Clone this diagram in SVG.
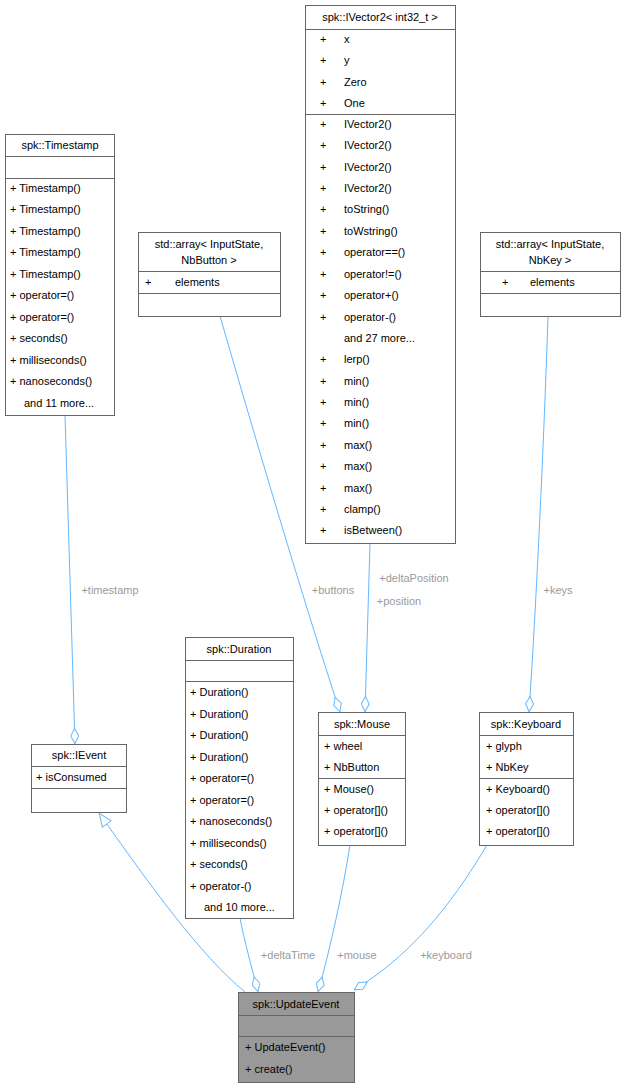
<svg xmlns="http://www.w3.org/2000/svg" width="627" height="1088" viewBox="0 0 627 1088">
<style>
text{font-family:"Liberation Sans",Arial,sans-serif;font-size:11px;fill:#000}
.t{text-anchor:middle}
.lb{fill:#9a9a9a;text-anchor:middle}
.b{fill:#fff;stroke:#666;stroke-width:1}
.g{fill:#999;stroke:#666;stroke-width:1}
.s{stroke:#666;stroke-width:1}
.e{fill:none;stroke:#63b8ff;stroke-width:1}
</style>
<defs>
<marker id="d" viewBox="0 0 16 9" markerWidth="16" markerHeight="9" refX="16" refY="4.5" orient="auto" markerUnits="userSpaceOnUse"><path d="M0.5,4.5 L8,0.5 L15.5,4.5 L8,8.5 Z" fill="#fff" stroke="#63b8ff"/></marker>
<marker id="tr" viewBox="0 0 14 12" markerWidth="14" markerHeight="12" refX="14" refY="6" orient="auto" markerUnits="userSpaceOnUse"><path d="M0.5,0.5 L13.5,6 L0.5,11.5 Z" fill="#fff" stroke="#63b8ff"/></marker>
</defs>
<g id="edges">
<path class="e" d="M65,415 L75,744" marker-end="url(#d)"/>
<path class="e" d="M245,992 C200,955 150,885 99,813" marker-end="url(#tr)"/>
<path class="e" d="M240,918 C244,940 252,968 258,992" marker-end="url(#d)"/>
<path class="e" d="M350,845 C343,890 330,950 318,992" marker-end="url(#d)"/>
<path class="e" d="M487,845 C460,890 420,950 354,990" marker-end="url(#d)"/>
<path class="e" d="M220,316 C250,420 300,590 340,712" marker-end="url(#d)"/>
<path class="e" d="M370,543 L365,712" marker-end="url(#d)"/>
<path class="e" d="M548,316 C544,440 536,610 529,712" marker-end="url(#d)"/>
<text class="lb" x="110" y="594">+timestamp</text>
<text class="lb" x="288" y="959">+deltaTime</text>
<text class="lb" x="357" y="959">+mouse</text>
<text class="lb" x="446" y="959">+keyboard</text>
<text class="lb" x="333" y="594">+buttons</text>
<text class="lb" x="414" y="582">+deltaPosition</text>
<text class="lb" x="399" y="605">+position</text>
<text class="lb" x="558" y="594">+keys</text>
</g>
<g id="Timestamp">
<rect class="b" x="5.5" y="134.5" width="109" height="281"/>
<line class="s" x1="5.5" y1="156.5" x2="114.5" y2="156.5"/><line class="s" x1="5.5" y1="178.5" x2="114.5" y2="178.5"/>
<text class="t" x="60" y="149">spk::Timestamp</text>
<text x="10" y="192">+ Timestamp()</text><text x="10" y="213">+ Timestamp()</text><text x="10" y="235">+ Timestamp()</text><text x="10" y="256">+ Timestamp()</text><text x="10" y="278">+ Timestamp()</text><text x="10" y="299">+ operator=()</text><text x="10" y="321">+ operator=()</text><text x="10" y="342">+ seconds()</text><text x="10" y="364">+ milliseconds()</text><text x="10" y="385">+ nanoseconds()</text><text x="24" y="407">and 11 more...</text>
</g>
<g id="ArrayButton">
<rect class="b" x="138.5" y="232.5" width="142" height="84"/>
<line class="s" x1="138.5" y1="271.5" x2="280.5" y2="271.5"/><line class="s" x1="138.5" y1="293.5" x2="280.5" y2="293.5"/>
<text class="t" x="209" y="248">std::array&lt; InputState,</text><text class="t" x="209" y="264">NbButton &gt;</text>
<text x="145" y="286">+</text><text x="175" y="286">elements</text>
</g>
<g id="IVector2">
<rect class="b" x="305.5" y="5.5" width="150" height="538"/>
<line class="s" x1="305.5" y1="29.5" x2="455.5" y2="29.5"/><line class="s" x1="305.5" y1="114.5" x2="455.5" y2="114.5"/>
<text class="t" x="380" y="21">spk::IVector2&lt; int32_t &gt;</text>
<g transform="translate(0,4)">
<text x="320" y="39">+</text><text x="344" y="39">x</text>
<text x="320" y="60">+</text><text x="344" y="60">y</text>
<text x="320" y="82">+</text><text x="344" y="82">Zero</text>
<text x="320" y="103">+</text><text x="344" y="103">One</text>
<text x="320" y="124">+</text><text x="344" y="124">IVector2()</text>
<text x="320" y="145">+</text><text x="344" y="145">IVector2()</text>
<text x="320" y="167">+</text><text x="344" y="167">IVector2()</text>
<text x="320" y="188">+</text><text x="344" y="188">IVector2()</text>
<text x="320" y="209">+</text><text x="344" y="209">toString()</text>
<text x="320" y="231">+</text><text x="344" y="231">toWstring()</text>
<text x="320" y="252">+</text><text x="344" y="252">operator==()</text>
<text x="320" y="274">+</text><text x="344" y="274">operator!=()</text>
<text x="320" y="295">+</text><text x="344" y="295">operator+()</text>
<text x="320" y="317">+</text><text x="344" y="317">operator-()</text>
<text x="344" y="338">and 27 more...</text>
<text x="320" y="359">+</text><text x="344" y="359">lerp()</text>
<text x="320" y="381">+</text><text x="344" y="381">min()</text>
<text x="320" y="402">+</text><text x="344" y="402">min()</text>
<text x="320" y="423">+</text><text x="344" y="423">min()</text>
<text x="320" y="445">+</text><text x="344" y="445">max()</text>
<text x="320" y="466">+</text><text x="344" y="466">max()</text>
<text x="320" y="488">+</text><text x="344" y="488">max()</text>
<text x="320" y="509">+</text><text x="344" y="509">clamp()</text>
<text x="320" y="530">+</text><text x="344" y="530">isBetween()</text>
</g>
</g>
<g id="ArrayKey">
<rect class="b" x="480.5" y="232.5" width="140" height="84"/>
<line class="s" x1="480.5" y1="271.5" x2="620.5" y2="271.5"/><line class="s" x1="480.5" y1="293.5" x2="620.5" y2="293.5"/>
<text class="t" x="550" y="248">std::array&lt; InputState,</text><text class="t" x="550" y="264">NbKey &gt;</text>
<text x="502" y="286">+</text><text x="530" y="286">elements</text>
</g>
<g id="IEvent">
<rect class="b" x="31.5" y="744.5" width="95" height="68"/>
<line class="s" x1="31.5" y1="766.5" x2="126.5" y2="766.5"/><line class="s" x1="31.5" y1="788.5" x2="126.5" y2="788.5"/>
<text class="t" x="79" y="759">spk::IEvent</text>
<text x="36" y="781">+ isConsumed</text>
</g>
<g id="Duration">
<rect class="b" x="185.5" y="637.5" width="108" height="281"/>
<line class="s" x1="185.5" y1="660.5" x2="293.5" y2="660.5"/><line class="s" x1="185.5" y1="681.5" x2="293.5" y2="681.5"/>
<text class="t" x="239" y="653">spk::Duration</text>
<text x="190" y="696">+ Duration()</text><text x="190" y="718">+ Duration()</text><text x="190" y="739">+ Duration()</text><text x="190" y="761">+ Duration()</text><text x="190" y="782">+ operator=()</text><text x="190" y="804">+ operator=()</text><text x="190" y="825">+ nanoseconds()</text><text x="190" y="847">+ milliseconds()</text><text x="190" y="868">+ seconds()</text><text x="190" y="890">+ operator-()</text><text x="204" y="911">and 10 more...</text>
</g>
<g id="Mouse">
<rect class="b" x="318.5" y="712.5" width="87" height="133"/>
<line class="s" x1="318.5" y1="735.5" x2="405.5" y2="735.5"/><line class="s" x1="318.5" y1="778.5" x2="405.5" y2="778.5"/>
<text class="t" x="362" y="728">spk::Mouse</text>
<text x="324" y="750">+ wheel</text><text x="324" y="771">+ NbButton</text><text x="324" y="793">+ Mouse()</text><text x="324" y="814">+ operator[]()</text><text x="324" y="835">+ operator[]()</text>
</g>
<g id="Keyboard">
<rect class="b" x="479.5" y="712.5" width="94" height="133"/>
<line class="s" x1="479.5" y1="735.5" x2="573.5" y2="735.5"/><line class="s" x1="479.5" y1="778.5" x2="573.5" y2="778.5"/>
<text class="t" x="526" y="728">spk::Keyboard</text>
<text x="486" y="750">+ glyph</text><text x="486" y="771">+ NbKey</text><text x="486" y="793">+ Keyboard()</text><text x="486" y="814">+ operator[]()</text><text x="486" y="835">+ operator[]()</text>
</g>
<g id="UpdateEvent">
<rect class="g" x="238.5" y="992.5" width="116" height="90"/>
<line class="s" x1="238.5" y1="1015.5" x2="354.5" y2="1015.5"/><line class="s" x1="238.5" y1="1036.5" x2="354.5" y2="1036.5"/>
<text class="t" x="296" y="1008">spk::UpdateEvent</text>
<text x="245" y="1051">+ UpdateEvent()</text><text x="245" y="1073">+ create()</text>
</g>
</svg>
